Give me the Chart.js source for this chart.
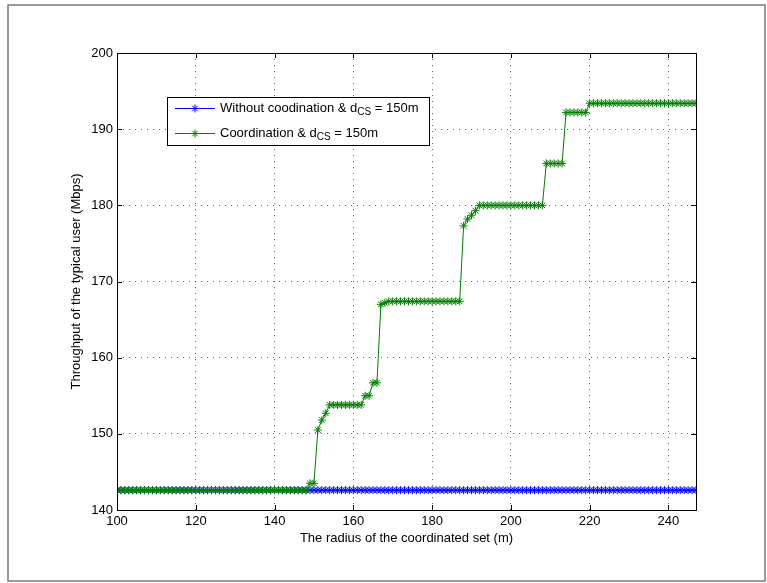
<!DOCTYPE html>
<html>
<head>
<meta charset="utf-8">
<title>Throughput vs radius of the coordinated set</title>
<script src="https://cdn.jsdelivr.net/npm/chart.js@4.4.0/dist/chart.umd.min.js"></script>
<style>
  html, body { margin: 0; padding: 0; background: #fff; }
  #chart { display: block; }
</style>
</head>
<body>
<canvas id="chart" width="767" height="583"></canvas>
<script>
// radius of the coordinated set (m)
const radius = [
  100, 101, 102, 103, 104, 105, 106, 107, 108, 109,
  110, 111, 112, 113, 114, 115, 116, 117, 118, 119,
  120, 121, 122, 123, 124, 125, 126, 127, 128, 129,
  130, 131, 132, 133, 134, 135, 136, 137, 138, 139,
  140, 141, 142, 143, 144, 145, 146, 147, 148, 149,
  150, 151, 152, 153, 154, 155, 156, 157, 158, 159,
  160, 161, 162, 163, 164, 165, 166, 167, 168, 169,
  170, 171, 172, 173, 174, 175, 176, 177, 178, 179,
  180, 181, 182, 183, 184, 185, 186, 187, 188, 189,
  190, 191, 192, 193, 194, 195, 196, 197, 198, 199,
  200, 201, 202, 203, 204, 205, 206, 207, 208, 209,
  210, 211, 212, 213, 214, 215, 216, 217, 218, 219,
  220, 221, 222, 223, 224, 225, 226, 227, 228, 229,
  230, 231, 232, 233, 234, 235, 236, 237, 238, 239,
  240, 241, 242, 243, 244, 245, 246, 247
];

// throughput without coordination (Mbps)
const withoutCoord = [
  142.6, 142.6, 142.6, 142.6, 142.6, 142.6, 142.6, 142.6, 142.6, 142.6,
  142.6, 142.6, 142.6, 142.6, 142.6, 142.6, 142.6, 142.6, 142.6, 142.6,
  142.6, 142.6, 142.6, 142.6, 142.6, 142.6, 142.6, 142.6, 142.6, 142.6,
  142.6, 142.6, 142.6, 142.6, 142.6, 142.6, 142.6, 142.6, 142.6, 142.6,
  142.6, 142.6, 142.6, 142.6, 142.6, 142.6, 142.6, 142.6, 142.6, 142.6,
  142.6, 142.6, 142.6, 142.6, 142.6, 142.6, 142.6, 142.6, 142.6, 142.6,
  142.6, 142.6, 142.6, 142.6, 142.6, 142.6, 142.6, 142.6, 142.6, 142.6,
  142.6, 142.6, 142.6, 142.6, 142.6, 142.6, 142.6, 142.6, 142.6, 142.6,
  142.6, 142.6, 142.6, 142.6, 142.6, 142.6, 142.6, 142.6, 142.6, 142.6,
  142.6, 142.6, 142.6, 142.6, 142.6, 142.6, 142.6, 142.6, 142.6, 142.6,
  142.6, 142.6, 142.6, 142.6, 142.6, 142.6, 142.6, 142.6, 142.6, 142.6,
  142.6, 142.6, 142.6, 142.6, 142.6, 142.6, 142.6, 142.6, 142.6, 142.6,
  142.6, 142.6, 142.6, 142.6, 142.6, 142.6, 142.6, 142.6, 142.6, 142.6,
  142.6, 142.6, 142.6, 142.6, 142.6, 142.6, 142.6, 142.6, 142.6, 142.6,
  142.6, 142.6, 142.6, 142.6, 142.6, 142.6, 142.6, 142.6
];

// throughput with coordination (Mbps)
const withCoord = [
  142.6, 142.6, 142.6, 142.6, 142.6, 142.6, 142.6, 142.6, 142.6, 142.6,
  142.6, 142.6, 142.6, 142.6, 142.6, 142.6, 142.6, 142.6, 142.6, 142.6,
  142.6, 142.6, 142.6, 142.6, 142.6, 142.6, 142.6, 142.6, 142.6, 142.6,
  142.6, 142.6, 142.6, 142.6, 142.6, 142.6, 142.6, 142.6, 142.6, 142.6,
  142.6, 142.6, 142.6, 142.6, 142.6, 142.6, 142.6, 142.6, 142.6, 143.5,
  143.5, 150.5, 151.8, 152.7, 153.8, 153.8, 153.8, 153.8, 153.8, 153.8,
  153.8, 153.8, 153.8, 155.0, 155.0, 156.7, 156.7, 167.0, 167.2, 167.4,
  167.4, 167.4, 167.4, 167.4, 167.4, 167.4, 167.4, 167.4, 167.4, 167.4,
  167.4, 167.4, 167.4, 167.4, 167.4, 167.4, 167.4, 167.4, 177.3, 178.2,
  178.7, 179.3, 180.0, 180.0, 180.0, 180.0, 180.0, 180.0, 180.0, 180.0,
  180.0, 180.0, 180.0, 180.0, 180.0, 180.0, 180.0, 180.0, 180.0, 185.5,
  185.5, 185.5, 185.5, 185.5, 192.2, 192.2, 192.2, 192.2, 192.2, 192.2,
  193.4, 193.4, 193.4, 193.4, 193.4, 193.4, 193.4, 193.4, 193.4, 193.4,
  193.4, 193.4, 193.4, 193.4, 193.4, 193.4, 193.4, 193.4, 193.4, 193.4,
  193.4, 193.4, 193.4, 193.4, 193.4, 193.4, 193.4, 193.4
];

const xTicks = [100, 120, 140, 160, 180, 200, 220, 240];
const yTicks = [140, 150, 160, 170, 180, 190, 200];

const seriesNames = ['Without coodination & d', 'Coordination & d'];
const seriesColors = ['#0000ff', '#008000'];

document.addEventListener('DOMContentLoaded', function() {
    const ctx = document.getElementById('chart').getContext('2d');
    const font = "'Liberation Sans', Arial, Helvetica, sans-serif";

    function toPoints(xs, ys) {
        return xs.map(function(x, i) { return { x: x, y: ys[i] }; });
    }

    // grey frame round the whole figure
    const figureFrame = {
        id: 'figureFrame',
        beforeDraw(chart) {
            const c = chart.ctx;
            c.save();
            c.fillStyle = '#fff';
            c.fillRect(0, 0, chart.width, chart.height);
            c.strokeStyle = '#7a7a7a';
            c.lineWidth = 1.5;
            c.strokeRect(8, 5, 757, 576);
            c.restore();
        }
    };

    // matlab style box, inward ticks on all four sides, legend with subscripts
    const matlabBox = {
        id: 'matlabBox',
        afterDraw(chart) {
            const c = chart.ctx;
            const a = chart.chartArea;
            const xs = chart.scales.x;
            const ys = chart.scales.y;
            const tickLen = 5;
            c.save();
            c.strokeStyle = '#000';
            c.lineWidth = 1;
            c.beginPath();
            xTicks.forEach(function(v) {
                const px = Math.round(xs.getPixelForValue(v)) + 0.5;
                c.moveTo(px, a.bottom); c.lineTo(px, a.bottom - tickLen);
                c.moveTo(px, a.top); c.lineTo(px, a.top + tickLen);
            });
            yTicks.forEach(function(v) {
                const py = Math.round(ys.getPixelForValue(v)) + 0.5;
                c.moveTo(a.left, py); c.lineTo(a.left + tickLen, py);
                c.moveTo(a.right, py); c.lineTo(a.right - tickLen, py);
            });
            c.stroke();
            c.strokeRect(Math.round(a.left) + 0.5, Math.round(a.top) + 0.5,
                Math.round(a.right - a.left), Math.round(a.bottom - a.top));

            // legend
            const lx = 167, ly = 97, lw = 262, lh = 48;
            c.fillStyle = '#fff';
            c.fillRect(lx, ly, lw, lh);
            c.strokeRect(lx + 0.5, ly + 0.5, lw, lh);
            seriesNames.forEach(function(name, i) {
                const rowY = ly + 11 + i * 25;
                c.strokeStyle = seriesColors[i];
                c.lineWidth = 1;
                c.beginPath();
                c.moveTo(lx + 8, rowY + 0.5);
                c.lineTo(lx + 48, rowY + 0.5);
                c.stroke();
                Chart.helpers.drawPoint(c, {
                    pointStyle: 'star', radius: 4, rotation: 0, borderWidth: 1
                }, lx + 28, rowY + 0.5);

                c.fillStyle = '#000';
                c.textBaseline = 'middle';
                c.font = '13px ' + font;
                let tx = lx + 53;
                c.fillText(name, tx, rowY);
                tx += c.measureText(name).width;
                c.font = '10px ' + font;
                c.fillText('CS', tx, rowY + 4);
                tx += c.measureText('CS').width;
                c.font = '13px ' + font;
                c.fillText(' = 150m', tx, rowY);
            });
            c.restore();
        }
    };

    const gridOpts = {
        color: 'rgba(0,0,0,0.6)',
        lineWidth: 1,
        drawTicks: false
    };

    new Chart(ctx, {
        type: 'line',
        data: {
            datasets: [{
                label: seriesNames[0] + 'CS = 150m',
                data: toPoints(radius, withoutCoord),
                borderColor: seriesColors[0],
                backgroundColor: seriesColors[0],
                borderWidth: 1,
                pointStyle: 'star',
                pointRadius: 4,
                pointBorderWidth: 1,
                pointBorderColor: seriesColors[0],
                tension: 0,
                order: 1
            }, {
                label: seriesNames[1] + 'CS = 150m',
                data: toPoints(radius, withCoord),
                borderColor: seriesColors[1],
                backgroundColor: seriesColors[1],
                borderWidth: 1,
                pointStyle: 'star',
                pointRadius: 4,
                pointBorderWidth: 1,
                pointBorderColor: seriesColors[1],
                tension: 0,
                order: 0
            }]
        },
        options: {
            responsive: false,
            animation: false,
            layout: { padding: { left: 69, top: 53, right: 71, bottom: 37 } },
            plugins: {
                legend: { display: false },
                tooltip: { enabled: false }
            },
            scales: {
                x: {
                    type: 'linear',
                    min: 100,
                    max: 247,
                    afterBuildTicks: function(scale) {
                        scale.ticks = xTicks.map(function(v) { return { value: v }; });
                    },
                    afterFit: function(scale) { scale.height = 36; },
                    grid: gridOpts,
                    border: { display: false, dash: [1, 5] },
                    ticks: {
                        color: '#000',
                        padding: 4,
                        maxRotation: 0,
                        font: { family: font, size: 13 }
                    },
                    title: {
                        display: true,
                        text: 'The radius of the coordinated set (m)',
                        color: '#000',
                        padding: 0,
                        font: { family: font, size: 13 }
                    }
                },
                y: {
                    min: 140,
                    max: 200,
                    afterBuildTicks: function(scale) {
                        scale.ticks = yTicks.map(function(v) { return { value: v }; });
                    },
                    afterFit: function(scale) { scale.width = 48; },
                    grid: gridOpts,
                    border: { display: false, dash: [1, 5] },
                    ticks: {
                        color: '#000',
                        padding: 4,
                        font: { family: font, size: 13 }
                    },
                    title: {
                        display: true,
                        text: 'Throughput of the typical user (Mbps)',
                        color: '#000',
                        padding: 0,
                        font: { family: font, size: 13 }
                    }
                }
            }
        },
        plugins: [figureFrame, matlabBox]
    });
});
</script>
</body>
</html>
